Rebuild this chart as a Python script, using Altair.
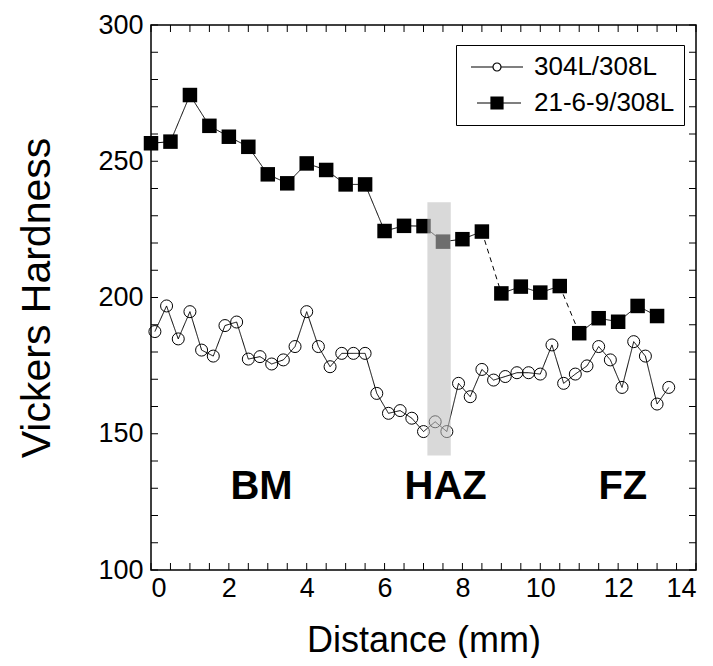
import altair as alt
import pandas as pd

# ---------------- data ----------------
series_names = ["304L/308L", "21-6-9/308L"]

x_304 = [0.1, 0.4, 0.7, 1.0, 1.3, 1.6, 1.9, 2.2, 2.5, 2.8, 3.1, 3.4, 3.7, 4.0, 4.3,
         4.6, 4.9, 5.2, 5.5, 5.8, 6.1, 6.4, 6.7, 7.0, 7.3, 7.6, 7.9, 8.2, 8.5, 8.8,
         9.1, 9.4, 9.7, 10.0, 10.3, 10.6, 10.9, 11.2, 11.5, 11.8, 12.1, 12.4, 12.7,
         13.0, 13.3]
hv_304 = [187.5, 196.9, 184.8, 194.8, 180.7, 178.5, 189.7, 191.0, 177.4, 178.3,
          175.6, 177.1, 182.0, 194.8, 182.0, 174.6, 179.5, 179.5, 179.5, 164.8,
          157.5, 158.5, 155.7, 150.8, 154.4, 150.8, 168.5, 163.6, 173.6, 169.7,
          171.0, 172.4, 172.4, 171.9, 182.6, 168.5, 171.9, 174.9, 182.0, 177.1,
          167.0, 183.8, 178.5, 160.9, 167.0]

x_2169 = [0.0, 0.5, 1.0, 1.5, 2.0, 2.5, 3.0, 3.5, 4.0, 4.5, 5.0, 5.5, 6.0, 6.5,
          7.0, 7.5, 8.0, 8.5, 9.0, 9.5, 10.0, 10.5, 11.0, 11.5, 12.0, 12.5, 13.0]
hv_2169 = [256.6, 257.2, 274.3, 263.0, 259.0, 255.3, 245.2, 241.9, 249.2, 246.8,
           241.5, 241.5, 224.4, 226.3, 226.2, 220.5, 221.4, 224.2, 201.5, 204.0,
           201.8, 204.2, 186.9, 192.4, 191.1, 196.9, 193.2]
dashed_starts_2169 = [8.5, 10.5]

band_x = [7.1]
band_x2 = [7.7]
band_y = [142.0]
band_y2 = [235.0]

region_names = ["BM", "HAZ", "FZ"]
region_x = [2.84, 7.57, 12.12]
region_y = [130.5, 130.5, 130.5]

x_label_values = [0, 2, 4, 6, 8, 10, 12, 14]
y_label_values = [100, 150, 200, 250, 300]
x_tick_values = [0, 0.5, 1, 1.5, 2, 2.5, 3, 3.5, 4, 4.5, 5, 5.5, 6, 6.5, 7, 7.5,
                 8, 8.5, 9, 9.5, 10, 10.5, 11, 11.5, 12, 12.5, 13, 13.5, 14]
y_tick_values = [100, 110, 120, 130, 140, 150, 160, 170, 180, 190, 200, 210, 220,
                 230, 240, 250, 260, 270, 280, 290, 300]

# ---------------- tables ----------------
def segments(xs, ys, dashed):
    rows = []
    for i in range(len(xs) - 1):
        rows.append({"x": xs[i], "y": ys[i], "x2": xs[i + 1], "y2": ys[i + 1],
                     "style": "dashed" if xs[i] in dashed else "solid"})
    return rows

seg_df = pd.DataFrame(segments(x_304, hv_304, []) + segments(x_2169, hv_2169, dashed_starts_2169))
df304 = pd.DataFrame({"x": x_304, "y": hv_304})
df2169 = pd.DataFrame({"x": x_2169, "y": hv_2169})
band_df = pd.DataFrame({"x": band_x, "x2": band_x2, "y": band_y, "y2": band_y2})
region_df = pd.DataFrame({"name": region_names, "x": region_x, "y": region_y})
xt_df = pd.DataFrame({"x": x_tick_values})
yt_df = pd.DataFrame({"y": y_tick_values})
leg_df = pd.DataFrame({"series": series_names})

FONT = "Liberation Sans"
XT = "Distance (mm)"
YT = "Vickers Hardness"
xs = alt.Scale(domain=[0, 14], nice=False, zero=False)
ys = alt.Scale(domain=[100, 300], nice=False, zero=False)

x_axis = alt.Axis(values=x_label_values, labelPadding=5, titleX=272.5, titleY=81,
                  titleBaseline="alphabetic", titleAlign="center", titleFontSize=36)
y_axis = alt.Axis(values=y_label_values, labelPadding=8, titleX=-102, titleY=272.5,
                  titleBaseline="alphabetic", titleAlign="center", titleAngle=-90,
                  titleFontSize=41)

lines = alt.Chart(seg_df).mark_rule(color="black", strokeWidth=1).encode(
    x=alt.X("x:Q", scale=xs, axis=x_axis, title=XT),
    y=alt.Y("y:Q", scale=ys, axis=y_axis, title=YT),
    x2="x2:Q",
    y2="y2:Q",
    strokeDash=alt.StrokeDash("style:N",
                              scale=alt.Scale(domain=["solid", "dashed"], range=[[1, 0], [5, 4]]),
                              legend=None),
)

circles = alt.Chart(df304).mark_point(shape="circle", filled=False, size=144,
                                      stroke="black", strokeWidth=1, opacity=1).encode(
    x=alt.X("x:Q", title=XT), y=alt.Y("y:Q", title=YT))

squares = alt.Chart(df2169).mark_point(shape="square", filled=True, size=210,
                                       color="black", opacity=1).encode(
    x=alt.X("x:Q", title=XT), y=alt.Y("y:Q", title=YT))

band = alt.Chart(band_df).mark_rect(color="#bdbdbd", opacity=0.58).encode(
    x=alt.X("x:Q", title=XT), x2="x2:Q", y=alt.Y("y:Q", title=YT), y2="y2:Q")

regions = alt.Chart(region_df).mark_text(font=FONT, fontSize=40, fontWeight="bold",
                                         color="black", baseline="middle", align="center").encode(
    x=alt.X("x:Q", title=XT), y=alt.Y("y:Q", title=YT), text="name:N")

TL = 7
tick_bottom = alt.Chart(xt_df).mark_rule(color="black", strokeWidth=1).encode(
    x=alt.X("x:Q", title=XT), y=alt.value(545), y2=alt.value(545 - TL))
tick_top = alt.Chart(xt_df).mark_rule(color="black", strokeWidth=1).encode(
    x=alt.X("x:Q", title=XT), y=alt.value(0), y2=alt.value(TL))
tick_left = alt.Chart(yt_df).mark_rule(color="black", strokeWidth=1).encode(
    y=alt.Y("y:Q", title=YT), x=alt.value(0), x2=alt.value(TL))
tick_right = alt.Chart(yt_df).mark_rule(color="black", strokeWidth=1).encode(
    y=alt.Y("y:Q", title=YT), x=alt.value(545), x2=alt.value(545 - TL))

# legend symbols: a line with the marker in its middle (unit: 10px)
circ_path = ("M-2.6,0H-0.4M0.4,0H2.6M-0.4,0A0.4,0.4 0 1,0 0.4,0"
             "A0.4,0.4 0 1,0 -0.4,0Z")
sq_path = "M-2.0,0H-0.6M0.6,0H2.4M-0.6,-0.6H0.6V0.6H-0.6Z"

legend_props = dict(title=None, orient="none", legendX=305, legendY=20,
                    symbolOpacity=1, symbolStrokeColor="black", symbolStrokeWidth=1.2,
                    symbolSize=400, symbolOffset=19, labelFont=FONT, labelFontSize=26,
                    labelColor="black", labelOffset=24, rowPadding=10, padding=9,
                    strokeColor="black", fillColor="white", labelLimit=400)

legend_layer = alt.Chart(leg_df).mark_point(opacity=0, filled=False, strokeWidth=1.2).encode(
    x=alt.value(0), y=alt.value(0),
    shape=alt.Shape("series:N", scale=alt.Scale(domain=series_names, range=[circ_path, sq_path]),
                    legend=alt.Legend(**legend_props)),
    fill=alt.Fill("series:N", scale=alt.Scale(domain=series_names, range=["white", "black"]),
                  legend=alt.Legend(**legend_props)),
    stroke=alt.Stroke("series:N", scale=alt.Scale(domain=series_names, range=["black", "black"]),
                      legend=alt.Legend(**legend_props)),
)

chart = alt.layer(
    lines, circles, squares, band, regions,
    tick_bottom, tick_top, tick_left, tick_right, legend_layer
).properties(
    width=545, height=545,
    autosize=alt.AutoSizeParams(type="none"),
    padding={"left": 143, "top": 17, "right": 8, "bottom": 88},
    background="white",
).configure_view(
    stroke="black", strokeWidth=1.5
).configure_axis(
    domain=False, ticks=False, grid=False,
    labelFont=FONT, labelFontSize=27, labelColor="black",
    titleFont=FONT, titleFontSize=38, titleFontWeight="normal", titleColor="black",
)

chart.save("out.html", embed_options={"renderer": "svg", "actions": False})
